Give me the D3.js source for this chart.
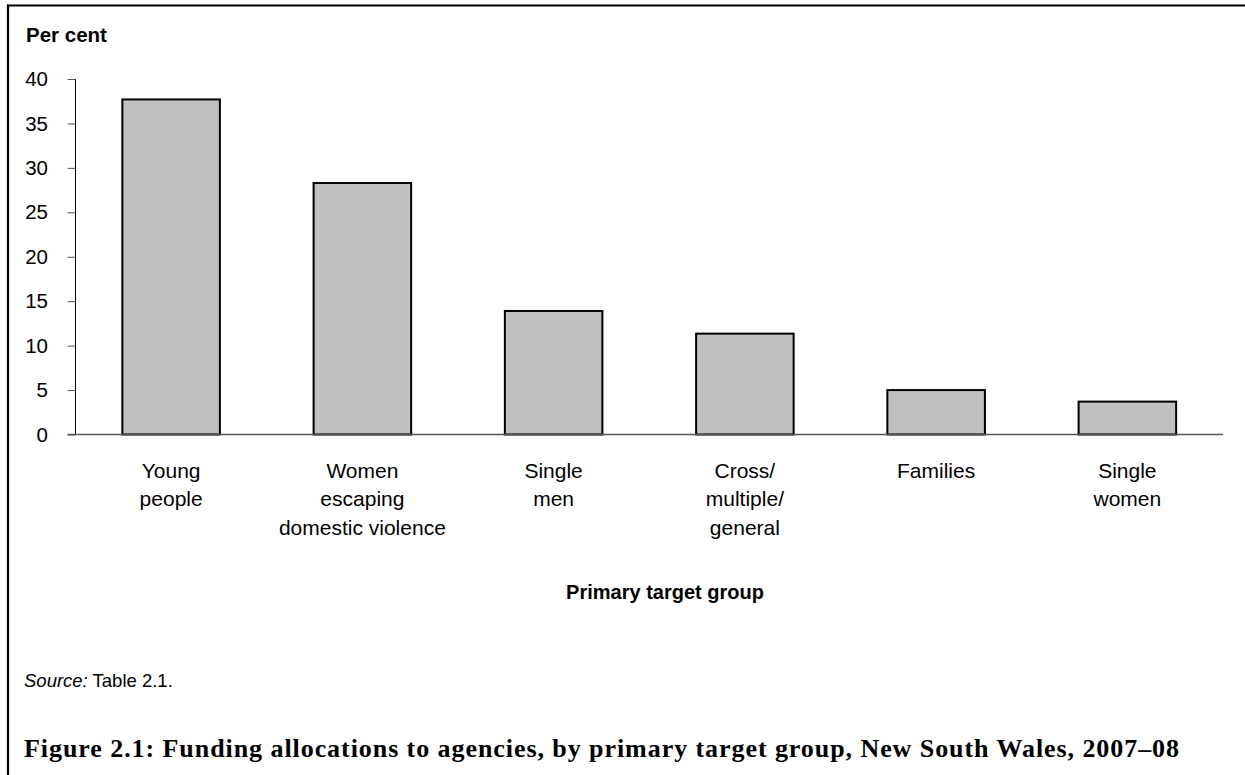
<!DOCTYPE html>
<html>
<head>
<meta charset="utf-8">
<script src="https://cdn.jsdelivr.net/npm/d3@7"></script>
<style>
  html, body { margin: 0; padding: 0; background: #fff; }
  svg { display: block; }
</style>
</head>
<body>
<svg id="chart" width="1245" height="775"></svg>
<script>
const categories = [
  ["Young", "people"],
  ["Women", "escaping", "domestic violence"],
  ["Single", "men"],
  ["Cross/", "multiple/", "general"],
  ["Families"],
  ["Single", "women"]
];
const values = [37.7, 28.3, 13.9, 11.35, 5.0, 3.7];
const yTicks = [0, 5, 10, 15, 20, 25, 30, 35, 40];
const yTitle = "Per cent";
const xTitle = "Primary target group";
const sourceLabel = "Source:";
const sourceText = " Table 2.1.";
const caption = "Figure 2.1: Funding allocations to agencies, by primary target group, New South Wales, 2007\u201308";

(function () {
const svg = d3.select("#chart");
const font = "Arial, 'Liberation Sans', sans-serif";

// frame (top and left border)
svg.append("line").attr("x1", 7).attr("x2", 1245).attr("y1", 5.5).attr("y2", 5.5)
  .attr("stroke", "#000").attr("stroke-width", 2.2);
svg.append("line").attr("x1", 8).attr("x2", 8).attr("y1", 4.5).attr("y2", 775)
  .attr("stroke", "#000").attr("stroke-width", 2.2);

const pLeft = 75.5, pRight = 1223, pTop = 79, pBottom = 434.5;

const x = d3.scaleBand().domain(d3.range(categories.length))
  .range([pLeft, pRight]).paddingInner(0.49).paddingOuter(0.245);
const y = d3.scaleLinear().domain([0, 40]).range([pBottom, pTop]);

// bars
svg.append("g").selectAll("rect").data(values).join("rect")
  .attr("x", (d, i) => x(i))
  .attr("y", d => y(d))
  .attr("width", x.bandwidth())
  .attr("height", d => y(0) - y(d))
  .attr("fill", "#c0c0c0")
  .attr("stroke", "#000")
  .attr("stroke-width", 2);

// y axis
const yAxis = d3.axisLeft(y).tickValues(yTicks).tickSize(8).tickPadding(19.5);
const gy = svg.append("g").attr("transform", `translate(${pLeft},0)`).call(yAxis);
gy.select(".domain").attr("stroke", "#000").attr("stroke-width", 1)
  .attr("d", `M0,${pTop}V${pBottom}`);
gy.selectAll(".tick line").attr("stroke", "#555").attr("stroke-width", 1);
gy.selectAll(".tick text").attr("font-family", font).attr("font-size", 20.5).attr("fill", "#000");

// x axis baseline
const xAxis = d3.axisBottom(x).tickSize(0).tickFormat("");
const gx = svg.append("g").attr("transform", `translate(0,${pBottom})`).call(xAxis);
gx.select(".domain").attr("stroke", "#555").attr("stroke-width", 1.5)
  .attr("d", `M${pLeft - 8},0H${pRight}`);

// category labels
categories.forEach((lines, i) => {
  const cx = x(i) + x.bandwidth() / 2;
  const t = svg.append("text")
    .attr("x", cx)
    .attr("y", 477.5)
    .attr("text-anchor", "middle")
    .attr("font-family", font).attr("font-size", 21).attr("fill", "#000");
  lines.forEach((ln, j) => {
    t.append("tspan").attr("x", cx).attr("dy", j === 0 ? 0 : 28.5).text(ln);
  });
});

// titles
svg.append("text").attr("x", 26).attr("y", 42)
  .attr("font-family", font).attr("font-size", 20.5).attr("font-weight", "bold").text(yTitle);
svg.append("text").attr("x", 665).attr("y", 599).attr("text-anchor", "middle")
  .attr("font-family", font).attr("font-size", 20).attr("font-weight", "bold").text(xTitle);

// source
const src = svg.append("text").attr("x", 24).attr("y", 687)
  .attr("font-family", font).attr("font-size", 18.5).attr("fill", "#000");
src.append("tspan").attr("font-style", "italic").text(sourceLabel);
src.append("tspan").text(sourceText);

// caption
svg.append("text").attr("x", 24).attr("y", 757)
  .attr("font-family", "'Liberation Serif', 'DejaVu Serif', serif")
  .attr("font-size", 26).attr("font-weight", "bold").attr("fill", "#000")
  .attr("textLength", 1155).attr("lengthAdjust", "spacing")
  .text(caption);
})();
</script>
</body>
</html>
